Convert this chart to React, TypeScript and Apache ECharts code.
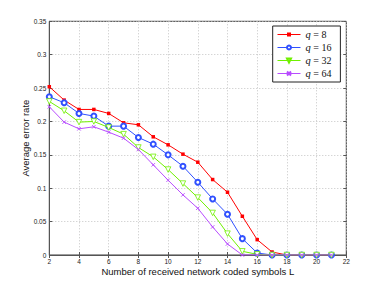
import React, { useEffect, useRef } from "react";
import * as echarts from "echarts";

const xValues = [2, 3, 4, 5, 6, 7, 8, 9, 10, 11, 12, 13, 14, 15, 16, 17, 18, 19, 20, 21];
const q8 = [0.252, 0.232, 0.218, 0.218, 0.212, 0.198, 0.195, 0.177, 0.165, 0.151, 0.139, 0.113, 0.094, 0.058, 0.023, 0.0045, 0, 0, 0, 0];
const q16 = [0.237, 0.228, 0.212, 0.208, 0.193, 0.193, 0.176, 0.166, 0.15, 0.133, 0.109, 0.084, 0.061, 0.0245, 0.003, 0, 0, 0, 0, 0];
const q32 = [0.23, 0.216, 0.199, 0.2, 0.191, 0.181, 0.161, 0.147, 0.128, 0.107, 0.086, 0.063, 0.032, 0.0055, 0.001, 0, 0, 0, 0, 0];
const q64 = [0.222, 0.199, 0.189, 0.192, 0.184, 0.175, 0.158, 0.135, 0.112, 0.09, 0.07, 0.042, 0.0165, 0, 0, 0, 0, 0, 0, 0];
const seriesNames = ["q = 8", "q = 16", "q = 32", "q = 64"];
const xTicks = [2, 4, 6, 8, 10, 12, 14, 16, 18, 20, 22];
const yTickLabels = ["0", "0.05", "0.1", "0.15", "0.2", "0.25", "0.3", "0.35"];

const colors = ["#ff0000", "#3050ff", "#70f000", "#b84cff"];
const symbols = ["rect", "emptyCircle", "path://M0 0L10 0L5 9Z", "path://M0 0L10 10M10 0L0 10"];
const symbolSizes = [3.5, 5, 5.5, 3.5];
const fills = ["#ff0000", "#3050ff", "#ffffff", "#b84cff"];
const borderWidths = [0, 0.8, 0.8, 0.9];

const allData = [q8, q16, q32, q64];

export default function App() {
  const ref = useRef<HTMLDivElement>(null);
  useEffect(() => {
    if (!ref.current) return;
    const chart = echarts.init(ref.current, null, { renderer: "svg" });
    const font = "'Liberation Sans', Arial, sans-serif";
    const yFmt = (v: number) => {
      const idx = Math.round(v / 0.05);
      return yTickLabels[idx] ?? "";
    };
    const xFmt = (v: number) => {
      const t = xTicks.find((x) => Math.abs(x - v) < 1e-6);
      return t === undefined ? "" : String(t);
    };
    const option: any = {
      animation: false,
      backgroundColor: "#ffffff",
      grid: {
        left: 49.3,
        right: 35.7,
        top: 21.3,
        bottom: 32,
        show: true,
        borderColor: "#3a3a3a",
        borderWidth: 1,
        backgroundColor: "transparent",
      },
      legend: {
        show: true,
        data: seriesNames,
        orient: "vertical",
        left: 272.7,
        top: 26,
        itemWidth: 23,
        itemHeight: 5,
        itemGap: 2,
        padding: [3, 9, 3, 4.3],
        backgroundColor: "#ffffff",
        borderColor: "#222222",
        borderWidth: 1,
        borderRadius: 0,
        lineStyle: { width: 1 },
        textStyle: {
          fontFamily: "'Liberation Serif', 'DejaVu Serif', serif",
          fontSize: 10,
          color: "#111",
          rich: {
            i: { fontStyle: "italic", fontFamily: "'Liberation Serif', serif", fontSize: 10.5, color: "#111" },
            n: { fontFamily: "'Liberation Serif', serif", fontSize: 10, color: "#111" },
          },
        },
        formatter: (name: string) => `{i|q}{n| = ${name.split("= ")[1]}}`,
      },
      xAxis: [
        {
          type: "value",
          min: 2,
          max: 22,
          interval: 2,
          name: "Number of received network coded symbols L",
          nameLocation: "middle",
          nameGap: 11.5,
          nameMoveOverlap: false,
          nameTextStyle: { fontFamily: font, fontSize: 9.5, color: "#111" },
          axisLine: { show: true, lineStyle: { color: "#555", width: 1 } },
          axisTick: { show: true, inside: true, length: 3, lineStyle: { color: "#555" } },
          axisLabel: { show: true, fontFamily: font, fontSize: 6.5, color: "#222", margin: 3, formatter: xFmt },
          splitLine: { show: true, lineStyle: { color: "#c4c4c4", type: [1, 2], width: 1 } },
        },
        {
          type: "value",
          position: "top",
          min: 2,
          max: 22,
          interval: 2,
          axisLine: { show: false },
          axisTick: { show: true, inside: true, length: 3, lineStyle: { color: "#555" } },
          axisLabel: { show: false },
          splitLine: { show: false },
        },
      ],
      yAxis: [
        {
          type: "value",
          min: 0,
          max: 0.35,
          interval: 0.05,
          name: "Average error rate",
          nameLocation: "middle",
          nameGap: 19,
          nameMoveOverlap: false,
          nameTextStyle: { fontFamily: font, fontSize: 9.5, color: "#111" },
          axisLine: { show: true, lineStyle: { color: "#555", width: 1 } },
          axisTick: { show: true, inside: true, length: 3, lineStyle: { color: "#555" } },
          axisLabel: { show: true, fontFamily: font, fontSize: 6.5, color: "#222", margin: 3, formatter: yFmt },
          splitLine: { show: true, lineStyle: { color: "#c4c4c4", type: [1, 2], width: 1 } },
        },
        {
          type: "value",
          position: "right",
          min: 0,
          max: 0.35,
          interval: 0.05,
          axisLine: { show: false },
          axisTick: { show: true, inside: true, length: 3, lineStyle: { color: "#555" } },
          axisLabel: { show: false },
          splitLine: { show: false },
        },
      ],
      series: allData.map((vals, i) => ({
        name: seriesNames[i],
        type: "line",
        xAxisIndex: 0,
        yAxisIndex: 0,
        data: xValues.map((x, j) => [x, vals[j]]),
        symbol: symbols[i],
        symbolSize: symbolSizes[i],
        showAllSymbol: true,
        color: colors[i],
        lineStyle: { color: colors[i], width: 1 },
        itemStyle: {
          color: fills[i],
          borderColor: colors[i],
          borderWidth: borderWidths[i],
        },
        emphasis: { disabled: true },
        z: 2 + i,
      })),
    };
    chart.setOption(option);
    return () => chart.dispose();
  }, []);
  return (
    <div
      ref={ref}
      style={{ position: "fixed", left: 0, top: 0, width: 382, height: 287, background: "#fff" }}
    />
  );
}
